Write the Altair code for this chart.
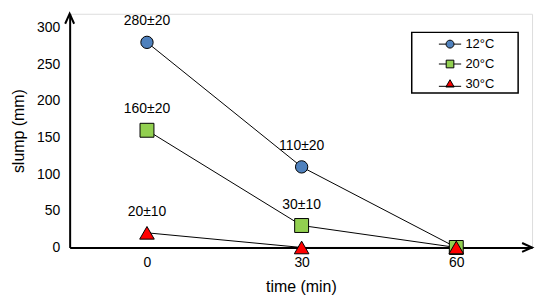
import altair as alt
import pandas as pd

# ---- data ----
time_min = [0, 30, 60]
series_names = ["12°C", "20°C", "30°C"]
slump_12 = [280, 110, 0]
slump_20 = [160, 30, 0]
slump_30 = [20, 0, 0]
labels_12 = ["280±20", "110±20", ""]
labels_20 = ["160±20", "30±10", ""]
labels_30 = ["20±10", "", ""]
x_ticks = [0, 30, 60]
y_ticks = [0, 50, 100, 150, 200, 250, 300]
fill_colors = ["#4F81BD", "#92D050", "#FF0000"]
marker_shapes = ["circle", "square", "triangle-up"]
marker_sizes = [154, 196, 215]

rows = []
for k, (s, vals, labs) in enumerate(zip(series_names,
                                         [slump_12, slump_20, slump_30],
                                         [labels_12, labels_20, labels_30])):
    for t, v, l in zip(time_min, vals, labs):
        rows.append({"series": s, "order": k, "time": t, "slump": v, "label": l})
df = pd.DataFrame(rows)

FONT = "Liberation Sans"
W, H = 465, 235

x_enc = alt.X("time:Q",
              scale=alt.Scale(domain=[-15, 74.7], nice=False, zero=False),
              axis=alt.Axis(values=x_ticks, title="time (min)", grid=False, ticks=False,
                            domainColor="black", domainWidth=2,
                            labelFontSize=14, labelPadding=8, labelColor="black",
                            titleFontSize=16, titleFontWeight="normal", titleColor="black",
                            titlePadding=9))
y_enc = alt.Y("slump:Q",
              scale=alt.Scale(domain=[0, 319], nice=False),
              axis=alt.Axis(values=y_ticks, title="slump (mm)", grid=False, ticks=False,
                            domainColor="black", domainWidth=2,
                            labelFontSize=14, labelPadding=10, labelColor="black",
                            titleFontSize=16, titleFontWeight="normal", titleColor="black",
                            titlePadding=10))

base = alt.Chart(df)

lines = base.mark_line(color="black", strokeWidth=1).encode(
    x=x_enc, y=y_enc, detail="series:N")

point_layers = []
for s, c, shp, sz in zip(series_names, fill_colors, marker_shapes, marker_sizes):
    point_layers.append(
        base.transform_filter(alt.datum.series == s).mark_point(
            filled=True, fill=c, stroke="black", strokeWidth=1, opacity=1,
            shape=shp, size=sz).encode(x=x_enc, y=y_enc)
    )

texts = base.mark_text(fontSize=14, dy=-21, baseline="middle", color="black", font=FONT).encode(
    x=x_enc, y=y_enc, text="label:N"
).transform_filter("datum.label != ''")

one = alt.Chart(pd.DataFrame({"a": [0]}))

# legend frame (decoration)
frame_l, frame_r, frame_t, frame_b = 344, 451, 18.7, 79.7
legend_box = one.mark_rect(fill="white", stroke="black", strokeWidth=1.5).encode(
    x=alt.value(frame_l), x2=alt.value(frame_r), y=alt.value(frame_t), y2=alt.value(frame_b))

legend_paths = [
    "M-1.6,0 L-0.57,0 M0.57,0 L1.6,0 M-0.57,0 A0.57,0.57 0 1,0 0.57,0 A0.57,0.57 0 1,0 -0.57,0 Z",
    "M-1.6,0 L-0.55,0 M0.55,0 L1.6,0 M-0.55,-0.55 L0.55,-0.55 L0.55,0.55 L-0.55,0.55 Z",
    "M-1.6,0.35 L1.6,0.35 M0,-0.6 L0.6,0.45 L-0.6,0.45 Z",
]
leg = alt.Legend(title=None, orient="none", legendX=344, legendY=18,
                 padding=5, strokeColor="transparent",
                 symbolSize=196, symbolStrokeColor="black", symbolStrokeWidth=1,
                 symbolOffset=26, labelOffset=8, rowPadding=5,
                 labelFontSize=13, labelFont=FONT, labelColor="black")
legend_layer = base.transform_filter("false").mark_point(
    filled=True, strokeWidth=1, opacity=1).encode(
    x=x_enc, y=y_enc,
    fill=alt.Fill("series:N", scale=alt.Scale(domain=series_names, range=fill_colors), legend=leg),
    shape=alt.Shape("series:N", scale=alt.Scale(domain=series_names, range=legend_paths), legend=leg),
    stroke=alt.Stroke("series:N", scale=alt.Scale(domain=series_names,
                                                  range=["black", "black", "black"]), legend=leg),
)

arrow_up = one.mark_point(shape="M-0.45,1 L0,0 L0.45,1", size=400, filled=False,
                          stroke="black", strokeWidth=2, opacity=1).encode(
    x=alt.value(0), y=alt.value(0))
arrow_right = one.mark_point(shape="M-1,-0.45 L0,0 L-1,0.45", size=400, filled=False,
                             stroke="black", strokeWidth=2, opacity=1).encode(
    x=alt.value(W), y=alt.value(H))

chart = alt.layer(lines, *point_layers, texts, legend_box, legend_layer,
                  arrow_up, arrow_right).properties(
    width=W, height=H,
    autosize=alt.AutoSizeParams(type="none"),
    padding={"left": 62, "top": 5, "right": 10, "bottom": 50},
    background="white",
).configure_view(stroke=None).configure(font=FONT)

chart.save("out.html", embed_options={"renderer": "svg", "actions": False})
